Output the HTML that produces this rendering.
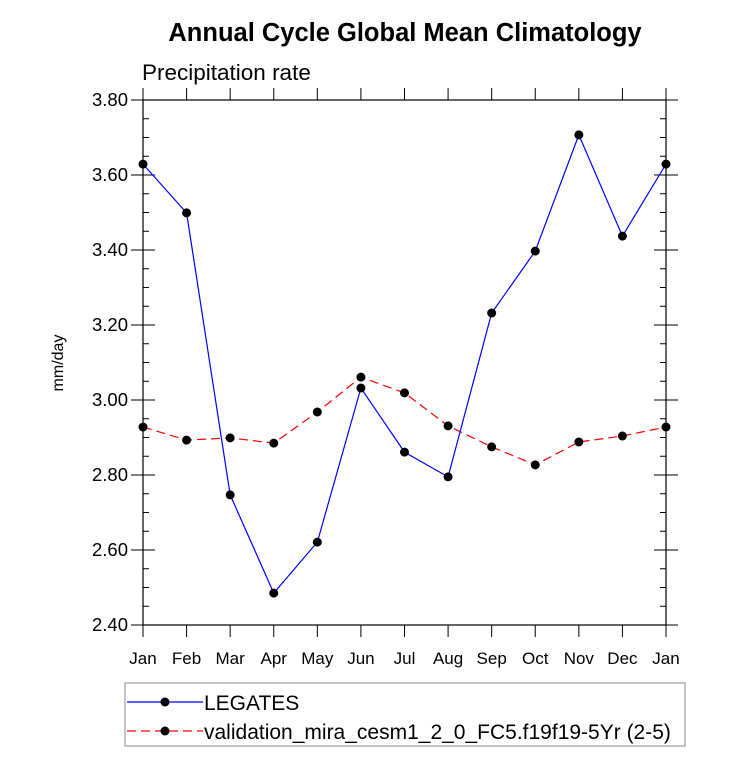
<!DOCTYPE html>
<html><head><meta charset="utf-8"><style>
body{margin:0;background:#fff;font-family:"Liberation Sans",sans-serif;}
svg text{font-family:"Liberation Sans",sans-serif;}
</style></head><body>
<svg id="chart" width="733" height="774" xmlns="http://www.w3.org/2000/svg">
<text x="405" y="41" text-anchor="middle" font-size="25.5" font-weight="bold">Annual Cycle Global Mean Climatology</text>
<text x="142" y="80" font-size="22.5">Precipitation rate</text>
<text transform="translate(63,363) rotate(-90)" text-anchor="middle" font-size="16">mm/day</text>
<g id="axes"></g>
<g id="series"></g>
<g>
<rect x="125" y="683" width="560" height="63" fill="none" stroke="#888" stroke-width="1"/>
<line x1="127" y1="702" x2="203" y2="702" stroke="#0000ff" stroke-width="1.2"/>
<circle cx="165" cy="702" r="4.5" fill="#000"/>
<text x="204" y="710" font-size="21">LEGATES</text>
<line x1="127" y1="731" x2="203" y2="731" stroke="#ff0000" stroke-width="1.2" stroke-dasharray="9,5"/>
<circle cx="165" cy="731" r="4.5" fill="#000"/>
<text x="204" y="739" font-size="21">validation_mira_cesm1_2_0_FC5.f19f19-5Yr (2-5)</text>
</g>
</svg>
<script>
const months=["Jan","Feb","Mar","Apr","May","Jun","Jul","Aug","Sep","Oct","Nov","Dec","Jan"];
const legates=[3.629,3.499,2.747,2.485,2.621,3.032,2.861,2.795,3.232,3.397,3.707,3.437,3.629];
const model=[2.928,2.893,2.899,2.885,2.968,3.061,3.019,2.931,2.875,2.827,2.888,2.904,2.928];
const yTicks=[2.40,2.60,2.80,3.00,3.20,3.40,3.60,3.80];
const NS="http://www.w3.org/2000/svg";
const L=143,R=666,T=100,B=625,ymin=2.4,ymax=3.8;
const xs=i=>L+i*(R-L)/12;
const ys=v=>B-(v-ymin)/(ymax-ymin)*(B-T);
function mk(tag,attrs,parent){const e=document.createElementNS(NS,tag);for(const k in attrs)e.setAttribute(k,attrs[k]);parent.appendChild(e);return e;}
const ax=document.getElementById('axes');
const frame=mk('rect',{x:L,y:T,width:R-L,height:B-T,fill:'none',stroke:'#000','stroke-width':1.2},ax);


yTicks.forEach((v,i)=>{
  const y=ys(v);
  mk('line',{x1:L-12,y1:y,x2:L+12,y2:y,stroke:'#000','stroke-width':1},ax);
  mk('line',{x1:R-12,y1:y,x2:R+12,y2:y,stroke:'#000','stroke-width':1},ax);
  if(i<yTicks.length-1){for(let k=1;k<4;k++){const yy=ys(v+k*0.05);
    mk('line',{x1:L,y1:yy,x2:L+6,y2:yy,stroke:'#000','stroke-width':1},ax);
    mk('line',{x1:R-6,y1:yy,x2:R,y2:yy,stroke:'#000','stroke-width':1},ax);}}
  const t=mk('text',{x:L-15,y:y+6,'text-anchor':'end','font-size':18.5},ax);
  t.textContent=v.toFixed(2);
  
  
});
months.forEach((m,i)=>{
  const x=xs(i);
  mk('line',{x1:x,y1:B,x2:x,y2:B+12,stroke:'#000','stroke-width':1},ax);
  mk('line',{x1:x,y1:T-12,x2:x,y2:T,stroke:'#000','stroke-width':1},ax);
  const t=mk('text',{x:x,y:B+39,'text-anchor':'middle','font-size':17},ax);
  t.textContent=m;
  
  
});
const sg=document.getElementById('series');
function draw(vals,color,dash,name){
  const p=mk('polyline',{points:vals.map((v,i)=>xs(i)+','+ys(v)).join(' '),fill:'none',stroke:color,'stroke-width':1.2,'stroke-dasharray':dash},sg);
  
  
  vals.forEach((v,i)=>{const c=mk('circle',{cx:xs(i),cy:ys(v),r:4.5,fill:'#000'},sg);
    
    });
}
draw(model,'#ff0000','9,5','model');
draw(legates,'#0000ff','none','legates');
</script>
</body></html>
